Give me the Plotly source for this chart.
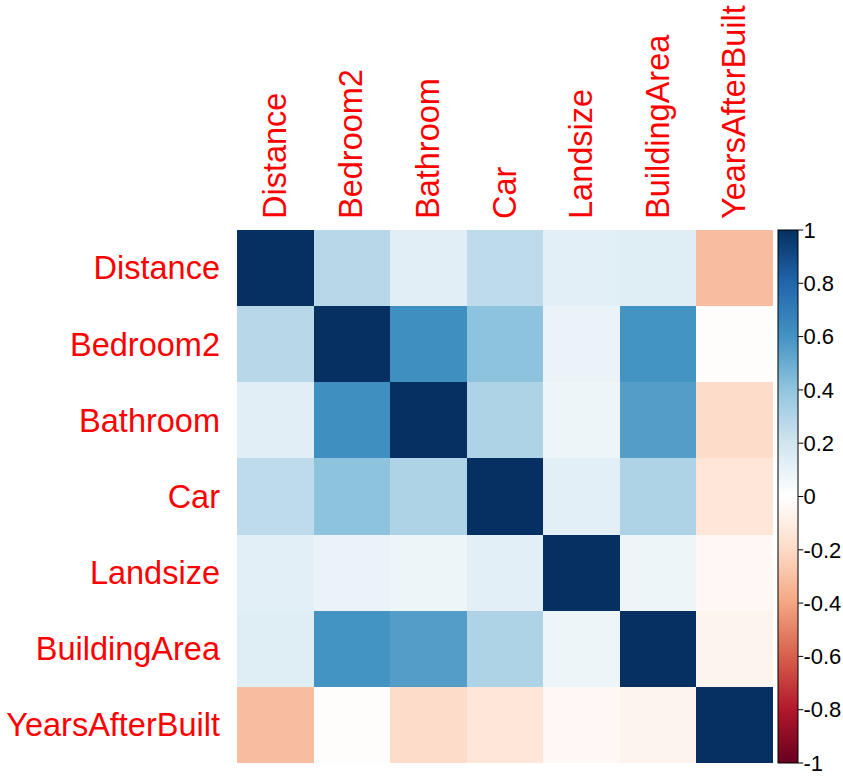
import plotly.graph_objects as go

# Variables of the housing data set
variables = ["Distance", "Bedroom2", "Bathroom", "Car", "Landsize",
             "BuildingArea", "YearsAfterBuilt"]

# Pairwise correlation coefficients, one list per row
distance        = [1.00, 0.28, 0.13, 0.26, 0.12, 0.14, -0.31]
bedroom2        = [0.28, 1.00, 0.62, 0.41, 0.09, 0.60, -0.01]
bathroom        = [0.13, 0.62, 1.00, 0.31, 0.08, 0.56, -0.19]
car             = [0.26, 0.41, 0.31, 1.00, 0.12, 0.31, -0.14]
landsize        = [0.12, 0.09, 0.08, 0.12, 1.00, 0.08, -0.04]
building_area   = [0.14, 0.60, 0.56, 0.31, 0.08, 1.00, -0.06]
years_after     = [-0.31, -0.01, -0.19, -0.14, -0.04, -0.06, 1.00]

corr = [distance, bedroom2, bathroom, car, landsize, building_area, years_after]

# Colour legend ticks
legend_ticks = [1.0, 0.8, 0.6, 0.4, 0.2, 0.0, -0.2, -0.4, -0.6, -0.8, -1.0]
legend_labels = ["1", "0.8", "0.6", "0.4", "0.2", "0", "-0.2", "-0.4", "-0.6", "-0.8", "-1"]

# Diverging red-blue palette
palette = ["#67001F", "#B2182B", "#D6604D", "#F4A582", "#FDDBC7", "#FFFFFF",
           "#D1E5F0", "#92C5DE", "#4393C3", "#2166AC", "#053061"]
colorscale = [[i / (len(palette) - 1), c] for i, c in enumerate(palette)]

FONT = "Liberation Sans, Arial, sans-serif"

# Plot area geometry (pixels)
W, H = 843, 777
ML, MR, MT, MB = 236.5, 70.3, 229.5, 13.5
plot_w = W - ML - MR
bar_x0 = 778.0          # left edge of the colour legend
bar_thick = 20
tick_len = 5

fig = go.Figure(go.Heatmap(
    z=corr,
    x=variables,
    y=variables,
    zmin=-1, zmax=1,
    colorscale=colorscale,
    xgap=0, ygap=0,
    colorbar=dict(
        x=(bar_x0 - ML) / plot_w, xanchor="left", xref="paper",
        y=0, yanchor="bottom", len=1, lenmode="fraction",
        thickness=bar_thick, thicknessmode="pixels",
        outlinecolor="black", outlinewidth=1,
        tickvals=legend_ticks, ticktext=legend_labels,
        ticks="",
        tickfont=dict(family=FONT, size=22, color="black"),
        ticklabeloverflow="allow",
        ypad=0, xpad=0,
    ),
    hovertemplate="%{y} / %{x}: %{z:.2f}<extra></extra>",
))

# Small tick marks on the right side of the colour legend
tx0 = (bar_x0 + bar_thick - ML) / plot_w
tx1 = (bar_x0 + bar_thick + tick_len - ML) / plot_w
for v in legend_ticks:
    yy = (v + 1) / 2
    fig.add_shape(type="line", xref="paper", yref="paper",
                  x0=tx0, x1=tx1, y0=yy, y1=yy,
                  line=dict(color="black", width=1))

fig.update_layout(
    width=W, height=H,
    margin=dict(l=ML, r=MR, t=MT, b=MB, pad=0, autoexpand=False),
    paper_bgcolor="white", plot_bgcolor="white",
    font=dict(family=FONT),
)

fig.update_xaxes(
    side="top", tickangle=-90,
    tickfont=dict(family=FONT, size=32.5, color="#FF0000"),
    showgrid=False, zeroline=False, showline=False, ticks="",
    ticklabelstandoff=10,
)
fig.update_yaxes(
    autorange="reversed",
    tickfont=dict(family=FONT, size=32.5, color="#FF0000"),
    showgrid=False, zeroline=False, showline=False, ticks="",
    ticklabelstandoff=16,
)

fig.write_html("out.html")
